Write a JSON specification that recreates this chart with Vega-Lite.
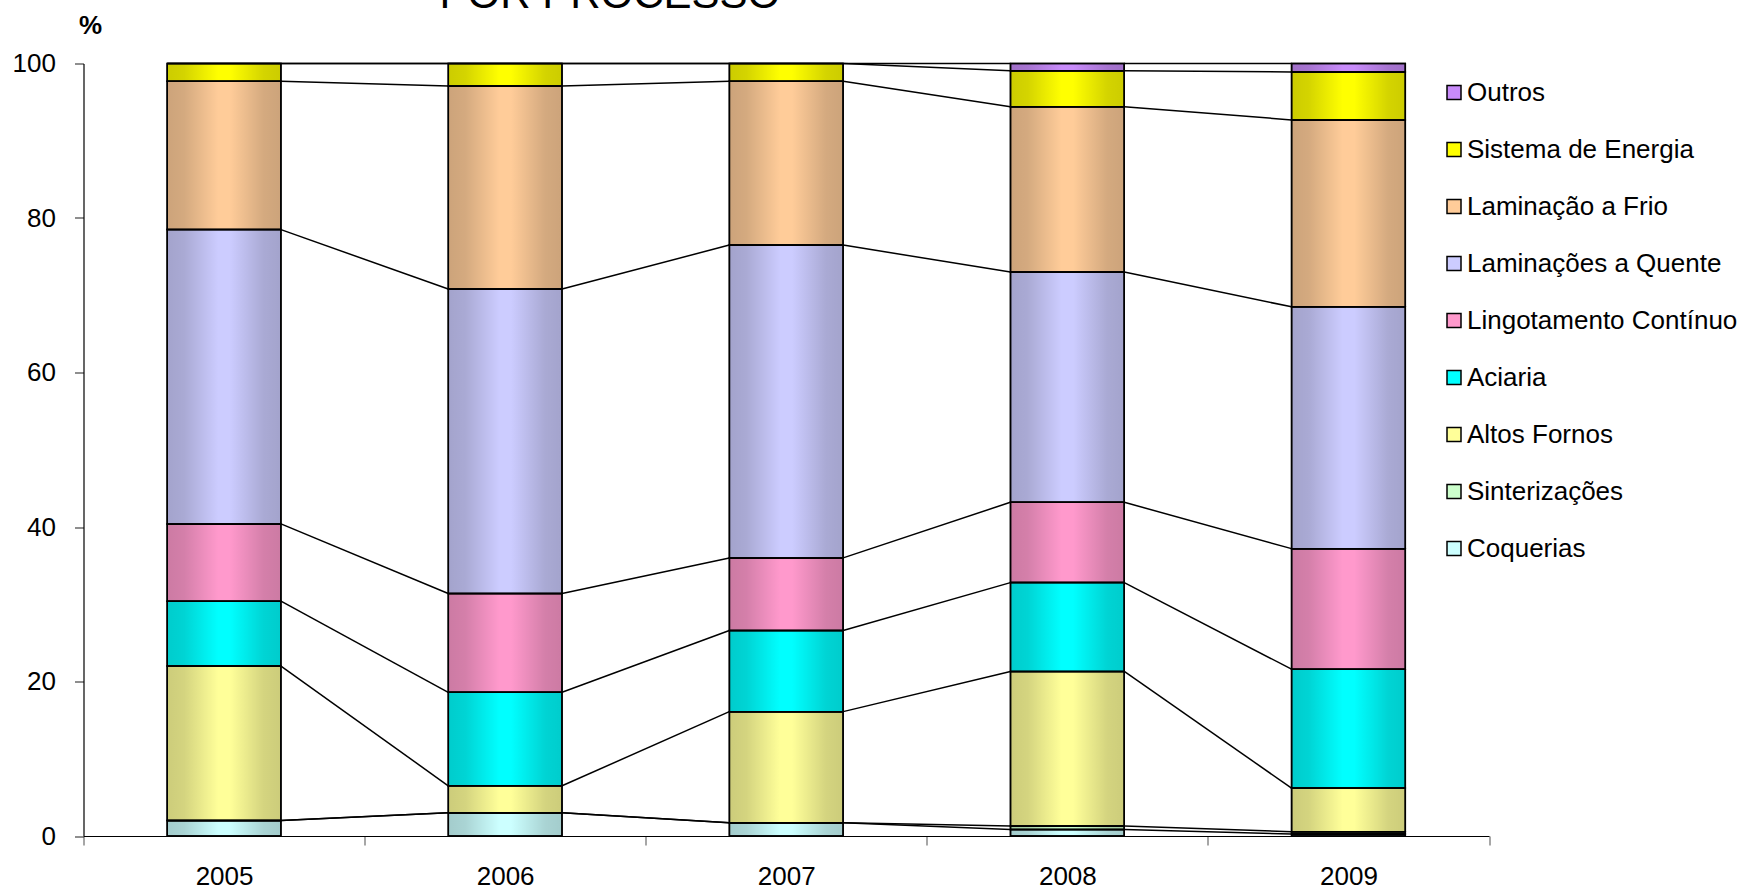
{
  "$schema": "https://vega.github.io/schema/vega-lite/v6.json",
  "autosize": {"type": "none"},
  "width": 1405.5,
  "height": 772.5,
  "padding": {"left": 83.5, "top": 63.5, "right": 257, "bottom": 55},
  "background": "white",
  "config": {"font": "Liberation Sans", "view": {"stroke": null}},
  "title": {"text": "POR PROCESSO", "anchor": "start", "frame": "group", "dx": 356, "fontSize": 42, "font": "Liberation Sans", "fontWeight": "normal", "color": "black", "baseline": "alphabetic", "offset": -38},
  "data": {"values": [
    {"ano": "2005", "processo": "Coquerias", "valor": 2.0},
    {"ano": "2005", "processo": "Sinterizações", "valor": 0},
    {"ano": "2005", "processo": "Altos Fornos", "valor": 20.0},
    {"ano": "2005", "processo": "Aciaria", "valor": 8.4},
    {"ano": "2005", "processo": "Lingotamento Contínuo", "valor": 10.0},
    {"ano": "2005", "processo": "Laminações a Quente", "valor": 38.1},
    {"ano": "2005", "processo": "Laminação a Frio", "valor": 19.2},
    {"ano": "2005", "processo": "Sistema de Energia", "valor": 2.3},
    {"ano": "2005", "processo": "Outros", "valor": 0},
    {"ano": "2006", "processo": "Coquerias", "valor": 3.0},
    {"ano": "2006", "processo": "Sinterizações", "valor": 0},
    {"ano": "2006", "processo": "Altos Fornos", "valor": 3.5},
    {"ano": "2006", "processo": "Aciaria", "valor": 12.1},
    {"ano": "2006", "processo": "Lingotamento Contínuo", "valor": 12.8},
    {"ano": "2006", "processo": "Laminações a Quente", "valor": 39.4},
    {"ano": "2006", "processo": "Laminação a Frio", "valor": 26.3},
    {"ano": "2006", "processo": "Sistema de Energia", "valor": 2.9},
    {"ano": "2006", "processo": "Outros", "valor": 0},
    {"ano": "2007", "processo": "Coquerias", "valor": 1.7},
    {"ano": "2007", "processo": "Sinterizações", "valor": 0},
    {"ano": "2007", "processo": "Altos Fornos", "valor": 14.4},
    {"ano": "2007", "processo": "Aciaria", "valor": 10.5},
    {"ano": "2007", "processo": "Lingotamento Contínuo", "valor": 9.4},
    {"ano": "2007", "processo": "Laminações a Quente", "valor": 40.5},
    {"ano": "2007", "processo": "Laminação a Frio", "valor": 21.2},
    {"ano": "2007", "processo": "Sistema de Energia", "valor": 2.3},
    {"ano": "2007", "processo": "Outros", "valor": 0},
    {"ano": "2008", "processo": "Coquerias", "valor": 0.85},
    {"ano": "2008", "processo": "Sinterizações", "valor": 0.45},
    {"ano": "2008", "processo": "Altos Fornos", "valor": 20.0},
    {"ano": "2008", "processo": "Aciaria", "valor": 11.5},
    {"ano": "2008", "processo": "Lingotamento Contínuo", "valor": 10.4},
    {"ano": "2008", "processo": "Laminações a Quente", "valor": 29.8},
    {"ano": "2008", "processo": "Laminação a Frio", "valor": 21.4},
    {"ano": "2008", "processo": "Sistema de Energia", "valor": 4.67},
    {"ano": "2008", "processo": "Outros", "valor": 0.93},
    {"ano": "2009", "processo": "Coquerias", "valor": 0.25},
    {"ano": "2009", "processo": "Sinterizações", "valor": 0.3},
    {"ano": "2009", "processo": "Altos Fornos", "valor": 5.65},
    {"ano": "2009", "processo": "Aciaria", "valor": 15.4},
    {"ano": "2009", "processo": "Lingotamento Contínuo", "valor": 15.6},
    {"ano": "2009", "processo": "Laminações a Quente", "valor": 31.3},
    {"ano": "2009", "processo": "Laminação a Frio", "valor": 24.2},
    {"ano": "2009", "processo": "Sistema de Energia", "valor": 6.2},
    {"ano": "2009", "processo": "Outros", "valor": 1.1}
  ]},
  "transform": [
    {"stack": "valor", "groupby": ["ano"], "as": ["lo", "hi"]},
    {"window": [{"op": "lead", "field": "hi", "as": "prox_hi"}, {"op": "lead", "field": "ano", "as": "prox_ano"}], "groupby": ["processo"], "sort": [{"field": "ano", "order": "ascending"}]}
  ],
  "encoding": {
    "x": {"field": "ano", "type": "nominal", "scale": {"paddingInner": 0, "paddingOuter": 0},
      "axis": {"title": null, "labelAngle": 0, "labelFontSize": 26, "labelFont": "Liberation Sans", "labelColor": "black", "labelPadding": 18, "tickBand": "extent", "tickSize": 9, "tickColor": "#888888", "tickWidth": 1.5, "domainColor": "black", "domainWidth": 1.2}}
  },
  "layer": [
    {
      "mark": {"type": "bar", "width": {"band": 0.4045}, "stroke": "black", "strokeWidth": 1.5},
      "encoding": {
        "y": {"field": "lo", "type": "quantitative", "scale": {"domain": [0, 100], "nice": false},
          "axis": {"values": [0, 20, 40, 60, 80, 100], "grid": false, "title": "%", "titleAngle": 0, "titleFontSize": 26, "titleFontWeight": "bold", "titleFont": "Liberation Sans", "titleColor": "black", "titleX": 6.5, "titleY": -38.5, "titleAlign": "center", "titleBaseline": "middle", "labelFontSize": 26, "labelFont": "Liberation Sans", "labelColor": "black", "labelPadding": 19, "tickSize": 9, "tickColor": "#444444", "tickWidth": 1.2, "domainColor": "black", "domainWidth": 1.2}},
        "y2": {"field": "hi"},
        "color": {"field": "processo", "type": "nominal",
          "scale": {"domain": ["Outros", "Sistema de Energia", "Laminação a Frio", "Laminações a Quente", "Lingotamento Contínuo", "Aciaria", "Altos Fornos", "Sinterizações", "Coquerias"],
                    "range": ["#C88BFA", "#FFFF00", "#FFCC99", "#CCCCFF", "#FF99CC", "#00FFFF", "#FFFF99", "#CCFFCC", "#CCFFFF"]},
          "legend": {"orient": "none", "legendX": 1357.5, "legendY": 16, "title": null, "symbolType": "square", "symbolSize": 196, "symbolStrokeColor": "black", "symbolStrokeWidth": 1.5, "labelFontSize": 26, "labelFont": "Liberation Sans", "labelColor": "black", "labelOffset": 0, "rowPadding": 31, "padding": 0, "labelLimit": 400}}
      }
    },
    {
      "mark": {"type": "bar", "width": {"band": 0.4045}, "stroke": "black", "strokeWidth": 1.5,
        "fill": {"gradient": "linear", "x1": 0, "y1": 0, "x2": 1, "y2": 0, "stops": [
          {"offset": 0, "color": "rgba(0,0,0,0.2)"},
          {"offset": 0.15, "color": "rgba(0,0,0,0.17)"},
          {"offset": 0.45, "color": "rgba(0,0,0,0)"},
          {"offset": 0.55, "color": "rgba(0,0,0,0)"},
          {"offset": 0.85, "color": "rgba(0,0,0,0.17)"},
          {"offset": 1, "color": "rgba(0,0,0,0.2)"}
        ]}},
      "encoding": {
        "y": {"field": "lo", "type": "quantitative"},
        "y2": {"field": "hi"}
      }
    },
    {
      "transform": [{"filter": "datum.prox_ano != null"}],
      "mark": {"type": "rule", "color": "black", "strokeWidth": 1.5},
      "encoding": {
        "x": {"field": "ano", "type": "nominal", "bandPosition": 0.7025},
        "x2": {"field": "prox_ano", "bandPosition": 0.2975},
        "y": {"field": "hi", "type": "quantitative"},
        "y2": {"field": "prox_hi"}
      }
    }
  ]
}
